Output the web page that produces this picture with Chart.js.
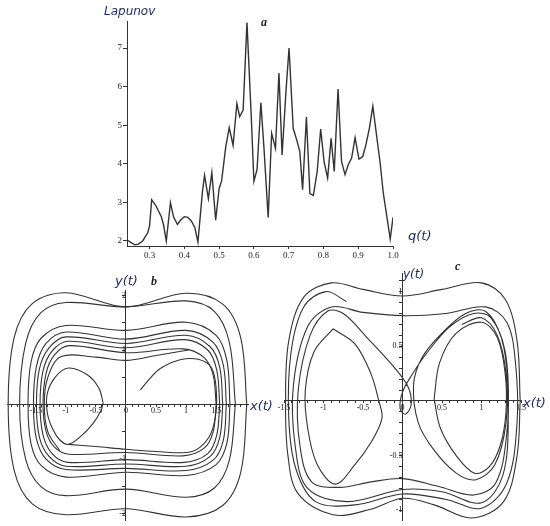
<!DOCTYPE html>
<html>
<head>
<meta charset="utf-8">
<script src="https://cdn.jsdelivr.net/npm/chart.js@4"></script>
<style>
  body { margin: 0; background: #fff; }
  #wrap { position: relative; width: 550px; height: 526px; overflow: hidden; }
  canvas { position: absolute; }
  .lbl { position: absolute; white-space: nowrap; line-height: 1; }
  .ax { font-family: "DejaVu Sans", sans-serif; font-style: italic; color: #1c2a5c; font-size: 13px; }
  .tag { font-family: "Liberation Serif", serif; font-style: italic; font-weight: bold; color: #222; font-size: 12px; }
</style>
</head>
<body>
<div id="wrap">
  <canvas id="chartA" width="320" height="262" style="left:90px;top:0"></canvas>
  <canvas id="chartB" width="275" height="266" style="left:0;top:260px"></canvas>
  <canvas id="chartC" width="275" height="266" style="left:275px;top:260px"></canvas>

  <div class="lbl ax" style="left:104px;top:5px;font-size:12px">Lapunov</div>
  <div class="lbl tag" style="left:261px;top:16px">a</div>
  <div class="lbl ax" style="left:408px;top:229px">q(t)</div>

  <div class="lbl ax" style="left:115px;top:274px">y(t)</div>
  <div class="lbl tag" style="left:151px;top:275px">b</div>
  <div class="lbl ax" style="left:250px;top:399px">x(t)</div>

  <div class="lbl ax" style="left:403px;top:268px;font-size:12px">y(t)</div>
  <div class="lbl tag" style="left:455px;top:260px">c</div>
  <div class="lbl ax" style="left:523px;top:396px">x(t)</div>
</div>

<script>
// Panel a: Lyapunov exponent vs q
const qVals = [0.238, 0.257, 0.268, 0.28, 0.295, 0.30, 0.306, 0.319, 0.334, 0.34, 0.348, 0.36, 0.369, 0.38,
  0.39, 0.4, 0.41, 0.42, 0.43, 0.439, 0.452, 0.458, 0.469, 0.479, 0.49, 0.5, 0.507, 0.519, 0.529, 0.54,
  0.551, 0.559, 0.569, 0.580, 0.592, 0.60, 0.609, 0.62, 0.629, 0.641, 0.651, 0.662, 0.672, 0.681, 0.692,
  0.701, 0.713, 0.723, 0.732, 0.74, 0.751, 0.761, 0.771, 0.782, 0.792, 0.802, 0.812, 0.822, 0.831, 0.842,
  0.852, 0.862, 0.871, 0.881, 0.891, 0.902, 0.913, 0.922, 0.932, 0.942, 0.953, 0.963, 0.972, 0.982, 0.992, 1.0];
const lyapVals = [2.01, 1.9, 1.92, 2.0, 2.22, 2.4, 3.07, 2.9, 2.62, 2.42, 2.0, 2.99, 2.62, 2.43,
  2.55, 2.63, 2.61, 2.52, 2.35, 1.97, 3.28, 3.7, 3.1, 3.77, 2.54, 3.36, 3.55, 4.44, 4.94, 4.48,
  5.56, 5.22, 5.39, 7.66, 5.3, 3.55, 3.85, 5.58, 4.4, 2.61, 4.79, 4.4, 6.35, 4.23, 5.85,
  7.0, 4.92, 4.62, 4.32, 3.33, 5.21, 3.23, 3.18, 3.8, 4.9, 4.04, 3.63, 4.66, 3.8, 5.94,
  4.06, 3.72, 3.97, 4.15, 4.68, 4.12, 4.19, 4.49, 4.92, 5.49, 4.72, 4.02, 3.25, 2.65, 2.05, 2.61];
const aXLabels = [0.3, 0.4, 0.5, 0.6, 0.7, 0.8, 0.9, 1.0];
const aYLabels = [2, 3, 4, 5, 6, 7];

// Panel b: phase portrait, x(t) vs y(t)
const bRing1 = [[2.01,0],[1.91,1.22],[1.61,1.84],[1.0,2.04],[0,1.79],[-1.0,2.05],[-1.56,1.85],[-1.86,1.23],[-1.96,0],
  [-1.86,-1.21],[-1.56,-1.82],[-1.0,-2.02],[0,-1.91],[1.0,-2.06],[1.61,-1.85],[1.91,-1.24],[2.01,0]];
const bRing2 = [[1.82,0],[1.72,1.14],[1.47,1.71],[1.0,1.9],[0,1.79],[-1.0,1.87],[-1.42,1.68],[-1.67,1.12],[-1.77,0],
  [-1.67,-1.0],[-1.42,-1.5],[-1.0,-1.67],[0,-1.55],[1.0,-1.7],[1.47,-1.53],[1.72,-1.02],[1.82,0]];
const bRing3 = [[1.73,0],[1.68,0.8],[1.5,1.27],[1.0,1.51],[0,1.36],[-1.0,1.45],[-1.41,1.22],[-1.58,0.78],[-1.63,0],
  [-1.58,-0.72],[-1.41,-1.12],[-1.0,-1.33],[0,-1.24],[1.0,-1.3],[1.5,-1.1],[1.68,-0.7],[1.73,0]];
const bRing4 = [[1.67,0],[1.62,0.72],[1.45,1.14],[1.0,1.36],[0,1.2],[-1.0,1.33],[-1.33,1.12],[-1.49,0.7],[-1.54,0],
  [-1.49,-0.63],[-1.33,-1.0],[-1.0,-1.19],[0,-1.17],[1.0,-1.21],[1.45,-1.02],[1.62,-0.65],[1.67,0]];
const bRing5 = [[1.61,0],[1.56,0.68],[1.4,1.06],[1.0,1.27],[0,1.12],[-1.0,1.24],[-1.28,1.04],[-1.44,0.66],[-1.49,0],
  [-1.44,-0.6],[-1.28,-0.95],[-1.0,-1.13],[0,-1.09],[1.0,-1.13],[1.4,-0.95],[1.56,-0.6],[1.61,0]];
const bRing6 = [[1.56,0],[1.51,0.63],[1.36,1.0],[0.97,1.19],[0,1.04],[-0.97,1.16],[-1.23,0.98],[-1.38,0.62],[-1.43,0],
  [-1.38,-0.56],[-1.23,-0.9],[-0.97,-1.06],[0,-1.01],[0.97,-1.06],[1.36,-0.9],[1.51,-0.56],[1.56,0]];
const bRing7 = [[1.5,0],[1.45,0.54],[1.3,0.86],[0.95,1.02],[0,0.95],[-0.95,1.08],[-1.19,0.91],[-1.33,0.57],[-1.38,0],
  [-1.33,-0.49],[-1.19,-0.78],[-0.95,-0.91],[0,-0.88],[0.95,-0.94],[1.3,-0.8],[1.45,-0.5],[1.5,0]];
const bTopArc = [[-1.1,-0.85],[-1.3,-0.5],[-1.36,0],[-1.3,0.5],[-1.08,0.88],[-0.5,0.87],[0,0.81],[0.5,0.9],[1.04,1.0]];
const bRightArc = [[0.24,0.27],[0.4,0.48],[0.57,0.66],[0.9,0.82],[1.2,0.83],[1.42,0.68],[1.5,0.3],[1.49,-0.2],
  [1.38,-0.6],[1.1,-0.86],[0.5,-0.86],[0,-0.82],[-0.5,-0.77],[-0.96,-0.73]];
const bLeftLoop = [[-0.38,0.03],[-0.45,0.3],[-0.65,0.55],[-0.96,0.67],[-1.18,0.5],[-1.31,0.2],[-1.31,-0.15],
  [-1.22,-0.45],[-1.1,-0.65],[-0.96,-0.73],[-0.75,-0.58],[-0.55,-0.35],[-0.42,-0.12],[-0.38,0.03]];
const bXLabels = [-1.5, -1, -0.5, 0, 0.5, 1, 1.5];
const bYLabels = [-2, -1, 1, 2];

// Panel c: phase portrait, x(t) vs y(t)
const cOuter = [[1.49,0],[1.45,0.55],[1.3,0.93],[1.0,1.08],[0.5,1.02],[0,0.96],[-0.5,1.02],[-0.9,1.08],[-1.25,0.95],
  [-1.44,0.55],[-1.48,0],[-1.45,-0.5],[-1.32,-0.85],[-0.88,-1.04],[-0.4,-0.99],[0,-0.89],[0.4,-0.95],[0.88,-1.07],
  [1.28,-0.92],[1.45,-0.5],[1.49,0]];
const cPath = [[-0.71,0.91],[-0.97,1.0],[-1.25,0.86],[-1.41,0.45],[-1.44,-0.15],[-1.35,-0.62],[-1.1,-0.92],[-0.6,-0.95],
  [0,-0.85],[0.55,-0.9],[1.0,-0.98],[1.32,-0.75],[1.45,-0.2],[1.43,0.35],[1.32,0.72],[1.05,0.86],[0.55,0.8],[0,0.78],
  [-0.5,0.81],[-0.9,0.86],[-1.2,0.68],[-1.38,0.15],[-1.36,-0.4],[-1.2,-0.8],[-0.7,-0.92],[0,-0.81],[0.5,-0.83],
  [1.0,-0.93],[1.27,-0.68],[1.34,-0.1],[1.3,0.45],[1.12,0.76],[0.9,0.8],[0.6,0.68],[0.32,0.45],[0.12,0.24],[0.0,0.08],
  [-0.03,-0.07],[0.04,-0.12],[0.11,-0.03],[0.07,0.13],[-0.12,0.32],[-0.45,0.58],[-0.75,0.8],[-0.95,0.82],[-1.17,0.6],
  [-1.32,0.1],[-1.3,-0.4],[-1.15,-0.74],[-0.8,-0.79],[-0.4,-0.74],[0,-0.71],[0.45,-0.78],[0.9,-0.86],[1.18,-0.75],
  [1.32,-0.3],[1.33,0.2],[1.25,0.58],[1.05,0.82],[0.8,0.8],[0.5,0.62],[0.25,0.4],[0.14,0.15],[0.2,-0.2],[0.4,-0.45],
  [0.68,-0.66],[0.93,-0.72],[1.17,-0.58],[1.31,-0.2],[1.31,0.25],[1.2,0.6],[1.0,0.76],[0.75,0.7]];
const cLeftLoop = [[-0.88,0.66],[-0.6,0.52],[-0.4,0.25],[-0.3,0.0],[-0.26,-0.16],[-0.4,-0.38],[-0.6,-0.58],[-0.85,-0.76],
  [-1.08,-0.58],[-1.2,-0.25],[-1.23,0.1],[-1.12,0.45],[-0.88,0.66]];
const cRightLoop = [[0.4,0.02],[0.47,0.35],[0.68,0.62],[1.0,0.72],[1.2,0.58],[1.3,0.25],[1.31,-0.1],[1.24,-0.4],
  [1.1,-0.6],[0.91,-0.66],[0.68,-0.5],[0.48,-0.25],[0.4,0.02]];
const cXLabels = [-1.5, -1, -0.5, 0, 0.5, 1, 1.5];
const cYLabels = [-1, -0.5, 0.5, 1];

const INK = '#333';
const tickFont = { family: 'Liberation Serif', size: 8 };

function hasLabel(list, v) {
    return list.some(l => Math.abs(l - v) < 1e-6);
}
function fmt(v) {
    return String(Math.round(v * 10) / 10);
}
function toPts(arr) {
    return arr.map(p => ({ x: p[0], y: p[1] }));
}

// Top chart
new Chart(document.getElementById('chartA'), {
    type: 'scatter',
    data: {
        datasets: [{
            data: qVals.map((q, i) => ({ x: q, y: lyapVals[i] })),
            showLine: true,
            borderColor: '#333',
            borderWidth: 1.4,
            pointRadius: 0,
            tension: 0
        }]
    },
    options: {
        responsive: false,
        animation: false,
        layout: { padding: { top: 21, right: 17, left: 0, bottom: 0 } },
        plugins: { legend: { display: false }, tooltip: { enabled: false } },
        scales: {
            x: {
                type: 'linear', position: 'bottom', min: 0.235, max: 1.0,
                afterFit: s => { s.height = 16; },
                ticks: {
                    stepSize: 0.1, autoSkip: false, includeBounds: false, maxRotation: 0,
                    padding: 1, color: '#222', font: { family: 'Liberation Serif', size: 9 },
                    callback: v => hasLabel(aXLabels, v) ? (Math.round(v * 10) / 10).toFixed(1) : ''
                },
                grid: { drawOnChartArea: false, tickLength: 3, color: INK },
                border: { color: INK }
            },
            y: {
                type: 'linear', position: 'left', min: 1.87, max: 7.7,
                afterFit: s => { s.width = 37; },
                ticks: {
                    stepSize: 1, autoSkip: false, includeBounds: false,
                    padding: 1, color: '#222', font: { family: 'Liberation Serif', size: 9 },
                    callback: v => hasLabel(aYLabels, v) ? String(Math.round(v)) : ''
                },
                grid: { drawOnChartArea: false, tickLength: 4, color: INK },
                border: { color: INK }
            }
        }
    }
});

function phaseChart(id, curves, xr, yr, pad, xStep, yStep, xLabels, yLabels) {
    return new Chart(document.getElementById(id), {
        type: 'scatter',
        data: {
            datasets: curves.map(c => ({
                data: toPts(c),
                showLine: true,
                borderColor: INK,
                borderWidth: 1.1,
                pointRadius: 0,
                tension: 0.35,
                clip: false
            }))
        },
        options: {
            responsive: false,
            animation: false,
            layout: { padding: pad },
            plugins: { legend: { display: false }, tooltip: { enabled: false } },
            scales: {
                x: {
                    type: 'linear', position: { y: 0 }, min: xr[0], max: xr[1],
                    ticks: {
                        stepSize: xStep, autoSkip: false, includeBounds: false, maxRotation: 0,
                        padding: 0, color: '#111', font: tickFont,
                        callback: v => hasLabel(xLabels, v) ? fmt(v) : ''
                    },
                    grid: { drawOnChartArea: false, tickLength: 2, color: INK },
                    border: { color: INK }
                },
                y: {
                    type: 'linear', position: { x: 0 }, min: yr[0], max: yr[1],
                    ticks: {
                        stepSize: yStep, autoSkip: false, includeBounds: false,
                        padding: 1, color: '#111', font: tickFont,
                        callback: v => hasLabel(yLabels, v) ? fmt(v) : ''
                    },
                    grid: { drawOnChartArea: false, tickLength: 3, color: INK },
                    border: { color: INK }
                }
            }
        }
    });
}

phaseChart('chartB',
    [bRing1, bRing2, bRing3, bRing4, bRing5, bRing6, bRing7, bTopArc, bRightArc, bLeftLoop],
    [-1.98, 2.03], [-2.12, 2.1],
    { left: 7, right: 27, top: 30, bottom: 4 },
    0.1, 0.5, bXLabels, bYLabels);

phaseChart('chartC',
    [cOuter, cPath, cLeftLoop, cRightLoop],
    [-1.5, 1.5], [-1.09, 1.17],
    { left: 9, right: 29, top: 13, bottom: 4 },
    0.1, 0.1, cXLabels, cYLabels);
</script>
</body>
</html>
